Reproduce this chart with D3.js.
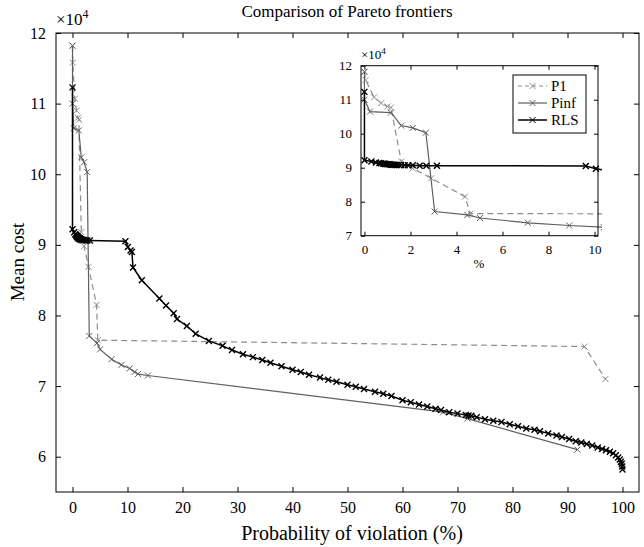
<!DOCTYPE html>
<html>
<head>
<meta charset="utf-8">
<script src="https://cdn.jsdelivr.net/npm/d3@7"></script>
<style>
  body { margin: 0; background: #fff; }
  svg text { font-family: "Liberation Serif", "Times New Roman", serif; fill: #000; }
</style>
</head>
<body>
<div id="chart"></div>
<script>
// data (x = % violation, y = mean cost / 1e4)
var p1Data = [[0,11.82],[0.05,11.58],[0.42,11.07],[0.73,10.9],[1.0,10.8],[1.15,10.77],[1.6,9.18],[2.1,8.98],[2.9,8.69],
  [4.37,8.15],[4.6,7.65],[93.1,7.56],[96.9,7.1]];

var pinfData = [[0,11.82],[0,11.0],[0.24,10.65],[1.15,10.62],[1.6,10.24],[2.1,10.17],[2.67,10.03],[3.05,7.71],[4.47,7.61],
  [5.02,7.52],[7.1,7.38],[8.9,7.3],[10.4,7.25],[11.3,7.2],[11.9,7.17],[13.7,7.15],[67.4,6.63],[71.8,6.54],[91.8,6.1]];

var rlsData = [[0,11.23],[0,9.22],[0.3,9.18],[0.5,9.15],[0.65,9.14],[0.72,9.13],[0.8,9.12],[0.85,9.12],[0.9,9.11],[0.95,9.11],
  [1.0,9.1],[1.05,9.1],[1.1,9.1],[1.15,9.09],[1.2,9.09],[1.25,9.09],[1.3,9.09],[1.35,9.08],[1.4,9.08],[1.5,9.08],
  [1.6,9.08],[1.75,9.07],[1.9,9.07],[2.1,9.07],[2.4,9.06],[2.69,9.06],[3.15,9.06],[9.62,9.05],[10.06,8.97],[10.55,8.92],
  [10.8,8.9],[11.0,8.68],[12.6,8.5],[15.8,8.24],[17.0,8.14],[18.4,8.03],[19.0,7.95],[20.8,7.85],[22.4,7.74],[24.8,7.64],
  [27.3,7.57],[29.0,7.51],[31,7.45],[32.8,7.41],[34.5,7.37],[36,7.33],[38,7.28],[40,7.23],[41.5,7.2],[43,7.16],
  [45,7.12],[46.5,7.09],[48,7.06],[50,7.02],[51.5,6.99],[53,6.96],[55,6.92],[56.5,6.89],[58,6.86],[60,6.8],
  [61.5,6.77],[63,6.74],[64.5,6.71],[66,6.68],[67,6.66],[68.5,6.63],[70,6.61],[71.5,6.59],[72,6.585],[72.5,6.58],
  [73.5,6.56],[75,6.53],[76.5,6.51],[78,6.49],[79.5,6.46],[81,6.43],[82.5,6.4],[84,6.38],[85,6.36],[86.5,6.33],
  [88,6.3],[89,6.28],[90.3,6.25],[91.5,6.22],[92.5,6.2],[93.5,6.18],[94.5,6.16],[95.5,6.13],[96.3,6.11],[97,6.09],
  [97.7,6.07],[98.3,6.05],[98.8,6.02],[99.2,5.99],[99.5,5.96],[99.7,5.93],[99.85,5.9],[99.95,5.86],[100,5.82]];

var xTicks = [0,10,20,30,40,50,60,70,80,90,100];
var yTicks = [6,7,8,9,10,11,12];
var insetXTicks = [0,2,4,6,8,10];
var insetYTicks = [7,8,9,10,11,12];
var seriesNames = ["P1", "Pinf", "RLS"];

var width = 644, height = 547;
var serif = "'Liberation Serif', 'Times New Roman', serif";

var svg = d3.select("#chart").append("svg")
    .attr("width", width)
    .attr("height", height);

var series = [
  { name: "P1", data: p1Data, color: "#8c8c8c", dash: "6,4", width: 1.2 },
  { name: "Pinf", data: pinfData, color: "#5f5f5f", dash: null, width: 1.2 },
  { name: "RLS", data: rlsData, color: "#000", dash: null, width: 1.5 }
];

var cross = "M-3,-3L3,3M-3,3L3,-3";

function drawPanel(g, x, y, xt, yt, opts) {
  var x0 = x.range()[0], x1 = x.range()[1];
  var y0 = y.range()[0], y1 = y.range()[1];

  g.append("rect")
    .attr("x", x0).attr("y", y1)
    .attr("width", x1 - x0).attr("height", y0 - y1)
    .attr("fill", "#fff");

  var clipId = "clip" + opts.id;
  g.append("clipPath").attr("id", clipId)
    .append("rect")
    .attr("x", x0).attr("y", y1 - 4)
    .attr("width", x1 - x0 + 4).attr("height", y0 - y1 + 8);

  var plot = g.append("g").attr("clip-path", "url(#" + clipId + ")");

  var line = d3.line()
    .x(function (d) { return x(d[0]); })
    .y(function (d) { return y(d[1]); });

  series.forEach(function (s) {
    plot.append("path")
      .datum(s.data)
      .attr("d", line)
      .attr("fill", "none")
      .attr("stroke", s.color)
      .attr("stroke-width", s.width)
      .attr("stroke-dasharray", s.dash);

    plot.selectAll(".m" + s.name)
      .data(s.data)
      .enter()
      .append("path")
      .attr("d", cross)
      .attr("transform", function (d) { return "translate(" + x(d[0]) + "," + y(d[1]) + ")"; })
      .attr("fill", "none")
      .attr("stroke", s.color)
      .attr("stroke-width", s.name == "RLS" ? 1.4 : 1);
  });

  // axes, ticks pointing inwards and mirrored
  var tl = opts.tick;
  var fmt = d3.format("d");
  var axes = [
    [d3.axisBottom(x).tickValues(xt).tickFormat(fmt), "translate(0," + y0 + ")"],
    [d3.axisTop(x).tickValues(xt).tickFormat(""), "translate(0," + y1 + ")"],
    [d3.axisLeft(y).tickValues(yt).tickFormat(fmt), "translate(" + x0 + ",0)"],
    [d3.axisRight(y).tickValues(yt).tickFormat(""), "translate(" + x1 + ",0)"]
  ];
  axes.forEach(function (a) {
    g.append("g")
      .attr("transform", a[1])
      .call(a[0].tickSizeInner(-tl).tickSizeOuter(0).tickPadding(tl + 5))
      .attr("font-family", serif)
      .attr("font-size", opts.font)
      .call(function (s) { s.select(".domain").remove(); });
  });

  g.selectAll(".tick line").attr("stroke", "#000");
  g.selectAll(".tick text").attr("fill", "#000");

  g.append("rect")
    .attr("x", x0).attr("y", y1)
    .attr("width", x1 - x0).attr("height", y0 - y1)
    .attr("fill", "none")
    .attr("stroke", "#000")
    .attr("stroke-width", 1);

  // exponent label
  var ex = g.append("text")
    .attr("x", x0 + opts.expDx)
    .attr("y", y1 - opts.expDy)
    .attr("font-size", opts.expFont);
  ex.append("tspan").text("\u00d710");
  ex.append("tspan").attr("dy", -opts.expFont * 0.4).attr("font-size", opts.expFont * 0.7).text("4");
}

// main chart
var x = d3.scaleLinear().domain([-3, 103]).range([56, 639]);
var y = d3.scaleLinear().domain([5.5, 12]).range([492, 33]);

var main = svg.append("g");
drawPanel(main, x, y, xTicks, yTicks, { id: "main", tick: 5, font: 16, expFont: 17, expDx: 0, expDy: 8 });

svg.append("text")
  .attr("x", 347).attr("y", 17)
  .attr("text-anchor", "middle")
  .attr("font-size", 17)
  .text("Comparison of Pareto frontiers");

svg.append("text")
  .attr("x", 352).attr("y", 540)
  .attr("text-anchor", "middle")
  .attr("font-size", 20)
  .text("Probability of violation (%)");

svg.append("text")
  .attr("transform", "translate(24,262) rotate(-90)")
  .attr("text-anchor", "middle")
  .attr("font-size", 19)
  .text("Mean cost");

// inset
var xi = d3.scaleLinear().domain([-0.15, 10.15]).range([361, 598]);
var yi = d3.scaleLinear().domain([7, 12]).range([235.7, 65.7]);

var inset = svg.append("g");
drawPanel(inset, xi, yi, insetXTicks, insetYTicks, { id: "inset", tick: 4, font: 13, expFont: 13, expDx: 0, expDy: 7 });

inset.append("text")
  .attr("x", 479).attr("y", 268)
  .attr("text-anchor", "middle")
  .attr("font-size", 13)
  .text("%");

// legend
var legend = inset.append("g").attr("transform", "translate(513,75)");
legend.append("rect")
  .attr("width", 73).attr("height", 58)
  .attr("fill", "#fff")
  .attr("stroke", "#000");

series.forEach(function (s, i) {
  var row = legend.append("g").attr("transform", "translate(0," + (11 + i * 17) + ")");
  row.append("line")
    .attr("x1", 5).attr("x2", 34)
    .attr("stroke", s.color)
    .attr("stroke-width", s.width)
    .attr("stroke-dasharray", s.dash ? "4,3" : null);
  row.append("path")
    .attr("d", cross)
    .attr("transform", "translate(19.5,0)")
    .attr("fill", "none")
    .attr("stroke", s.color);
  row.append("text")
    .attr("x", 38).attr("y", 5)
    .attr("font-size", 15)
    .text(seriesNames[i]);
});
</script>
</body>
</html>
